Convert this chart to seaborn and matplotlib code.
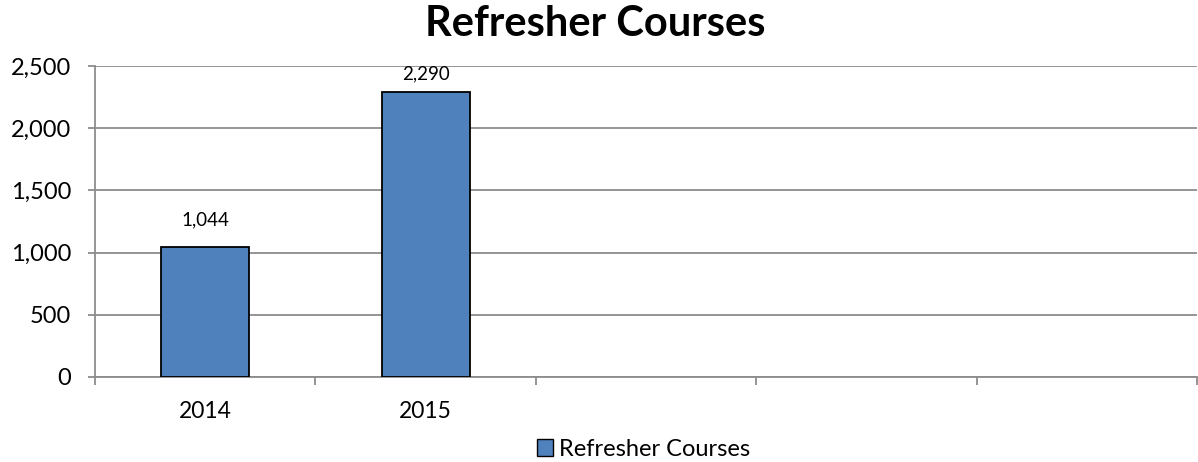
import matplotlib
matplotlib.use("Agg")
import matplotlib.pyplot as plt
import seaborn as sns
import pandas as pd
from matplotlib.patches import Patch
from matplotlib.ticker import FuncFormatter, FixedLocator

years = ["2014", "2015"]
values = [1044, 2290]
series_name = "Refresher Courses"
title = "Refresher Courses"
n_slots = 5

sns.set_theme(style="white")
plt.rcParams["font.family"] = ["Lato", "DejaVu Sans"]
plt.rcParams["text.color"] = "black"

df = pd.DataFrame({"year": years, "value": values})

fig = plt.figure(figsize=(11.98, 4.62), dpi=100)
ax = fig.add_axes([0.0793, 0.184, 0.9199, 0.673])

bar_color = "#4F81BD"
grid_color = "#8c8c8c"
sns.barplot(data=df, x="year", y="value", color=bar_color, width=0.40,
            edgecolor="black", linewidth=1.3, saturation=1, ax=ax, zorder=3)

ymax = 2500
ax.set_xlim(-0.5, n_slots - 0.5)
ax.set_ylim(0, ymax)
ax.set_yticks(range(0, ymax + 1, 500))
ax.yaxis.set_major_formatter(FuncFormatter(lambda v, p: f"{int(v):,}"))
ax.grid(axis="y", color=grid_color, linewidth=1.3, zorder=0)

# category boundaries carry tick marks; labels sit in the middle of each slot
ax.xaxis.set_major_locator(FixedLocator([i - 0.5 for i in range(n_slots + 1)]))
ax.xaxis.set_major_formatter(FuncFormatter(lambda v, p: ""))
ax.xaxis.set_minor_locator(FixedLocator(list(range(len(years)))))
ax.set_xticklabels(years, minor=True)
ax.tick_params(axis="x", which="major", length=6, width=1.3, color=grid_color,
               direction="out", bottom=True)
ax.tick_params(axis="x", which="minor", length=0, labelsize=16.5, pad=17,
               labelcolor="black")
ax.tick_params(axis="y", length=5, width=1.3, color=grid_color, labelsize=17,
               pad=12, left=True, labelcolor="black")

for side in ["top", "right"]:
    ax.spines[side].set_visible(False)
for side in ["left", "bottom"]:
    ax.spines[side].set_color(grid_color)
    ax.spines[side].set_linewidth(1.3)

ax.set_xlabel("")
ax.set_ylabel("")

# value labels above the bars, kept inside the plot area
gap = 177          # space between bar top and label baseline (data units)
label_height = 105  # height of the label digits (data units)
for i, v in enumerate(values):
    y = min(v + gap, ymax - label_height)
    ax.text(i, y, f"{v:,}", ha="center", va="baseline", fontsize=13.5,
            color="black", zorder=4)

fig.suptitle(title, fontsize=30, fontweight="bold", y=0.99, x=0.497,
             color="black")

handle = Patch(facecolor=bar_color, edgecolor="black", linewidth=1.0,
               label=series_name)
fig.legend(handles=[handle], loc="center", bbox_to_anchor=(0.537, 0.028),
           frameon=False, fontsize=17, handlelength=0.7, handleheight=0.7,
           handletextpad=0.25, labelcolor="black")

fig.savefig("out.png", dpi=100)
